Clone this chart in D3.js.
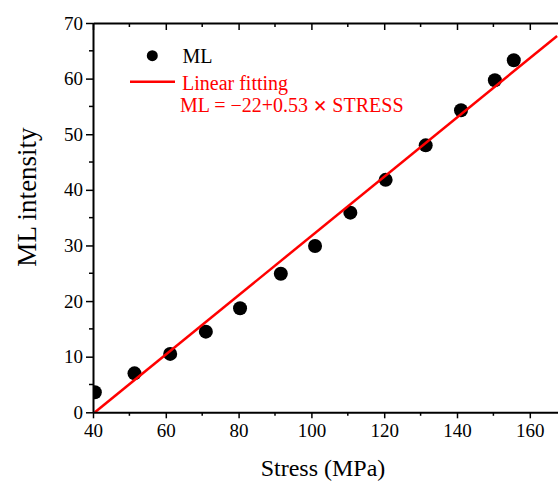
<!DOCTYPE html>
<html>
<head>
<meta charset="utf-8">
<script src="https://cdn.jsdelivr.net/npm/d3@7"></script>
<style>
  body { margin: 0; background: #fff; }
  svg text { font-family: "Times New Roman", "Liberation Serif", "DejaVu Serif", serif; }
</style>
</head>
<body>
<div id="chart"></div>
<script>
const stress = [40.5, 51.4, 61.2, 71.0, 80.4, 91.6, 101.0, 110.7, 120.4, 131.4, 141.1, 150.4, 155.6];
const mlIntensity = [3.6, 7.0, 10.5, 14.5, 18.7, 24.9, 29.9, 35.9, 41.8, 48.0, 54.3, 59.7, 63.3];
const xTicks = [40, 60, 80, 100, 120, 140, 160];
const yTicks = [0, 10, 20, 30, 40, 50, 60, 70];
const fitIntercept = -21.6;
const fitSlope = 0.533;

const width = 558, height = 483;
const mLeft = 93, mTop = 23, mBottom = 412.3;

const svg = d3.select("#chart").append("svg")
    .attr("width", width)
    .attr("height", height);

const x = d3.scaleLinear().domain([40, 170]).range([mLeft, mLeft + 3.64 * 130]);
const y = d3.scaleLinear().domain([0, 70]).range([mBottom, mTop]);

svg.append("clipPath").attr("id", "plot-clip")
  .append("rect")
    .attr("x", mLeft).attr("y", mTop)
    .attr("width", width - mLeft).attr("height", mBottom - mTop);

const plot = svg.append("g").attr("clip-path", "url(#plot-clip)");

// points
plot.selectAll("circle")
  .data(stress.map((s, i) => [s, mlIntensity[i]]))
  .join("circle")
    .attr("cx", d => x(d[0]))
    .attr("cy", d => y(d[1]))
    .attr("r", 7)
    .attr("fill", "#000");

// linear fit
const x0 = -fitIntercept / fitSlope, x1 = 167.5;
plot.append("line")
    .attr("x1", x(x0)).attr("y1", y(fitIntercept + fitSlope * x0))
    .attr("x2", x(x1)).attr("y2", y(fitIntercept + fitSlope * x1))
    .attr("stroke", "#ff0000")
    .attr("stroke-width", 2.5);

// axes
const minorX = d3.range(50, 171, 20);
const minorY = d3.range(5, 70, 10);

const xAxis = svg.append("g").attr("transform", `translate(0,${mBottom})`)
    .call(d3.axisBottom(x).tickValues(xTicks).tickSize(6).tickPadding(5).tickSizeOuter(0));
xAxis.append("g").selectAll("line").data(minorX).join("line")
    .attr("x1", d => x(d)).attr("x2", d => x(d)).attr("y1", 0).attr("y2", 3.5)
    .attr("stroke", "#000").attr("stroke-width", 1.5);

const topAxis = svg.append("g").attr("transform", `translate(0,${mTop})`)
    .call(d3.axisBottom(x).tickValues(xTicks).tickSize(7).tickFormat("").tickSizeOuter(0));
topAxis.append("g").selectAll("line").data(minorX).join("line")
    .attr("x1", d => x(d)).attr("x2", d => x(d)).attr("y1", 0).attr("y2", 4)
    .attr("stroke", "#000").attr("stroke-width", 1.5);

const yAxis = svg.append("g").attr("transform", `translate(${mLeft},0)`)
    .call(d3.axisLeft(y).tickValues(yTicks).tickSize(7).tickPadding(3).tickSizeOuter(0));
yAxis.append("g").selectAll("line").data(minorY).join("line")
    .attr("y1", d => y(d)).attr("y2", d => y(d)).attr("x1", 0).attr("x2", -4)
    .attr("stroke", "#000").attr("stroke-width", 1.5);

svg.selectAll(".domain").attr("stroke", "#000").attr("stroke-width", 2);
svg.selectAll(".tick line").attr("stroke", "#000").attr("stroke-width", 1.5);
svg.selectAll("g").attr("font-family", null);
svg.selectAll(".tick text")
    .attr("font-size", 19)
    .attr("fill", "#000");

// axis titles
svg.append("text")
    .attr("x", 323).attr("y", 476)
    .attr("text-anchor", "middle")
    .attr("font-size", 24)
    .text("Stress (MPa)");

svg.append("text")
    .attr("transform", "translate(36,197) rotate(-90)")
    .attr("text-anchor", "middle")
    .attr("font-size", 27)
    .text("ML intensity");

// legend
const legend = svg.append("g");
legend.append("circle").attr("cx", 152.3).attr("cy", 55.7).attr("r", 5.5).attr("fill", "#000");
legend.append("text").attr("x", 182.5).attr("y", 62.5).attr("font-size", 20).attr("fill", "#000").text("ML");
legend.append("line")
    .attr("x1", 130).attr("x2", 175).attr("y1", 81.7).attr("y2", 81.7)
    .attr("stroke", "#ff0000").attr("stroke-width", 2.5);
legend.append("text").attr("x", 182).attr("y", 89.5).attr("font-size", 20).attr("fill", "#ff0000").text("Linear fitting");
const eq = legend.append("text").attr("x", 180).attr("y", 111.7).attr("font-size", 20).attr("fill", "#ff0000");
eq.append("tspan").text("ML = \u221222+0.53 ");
eq.append("tspan").attr("font-family", "DejaVu Sans").attr("font-weight", "bold").attr("font-size", 17).text("\u2715");
eq.append("tspan").text(" STRESS");
</script>
</body>
</html>
